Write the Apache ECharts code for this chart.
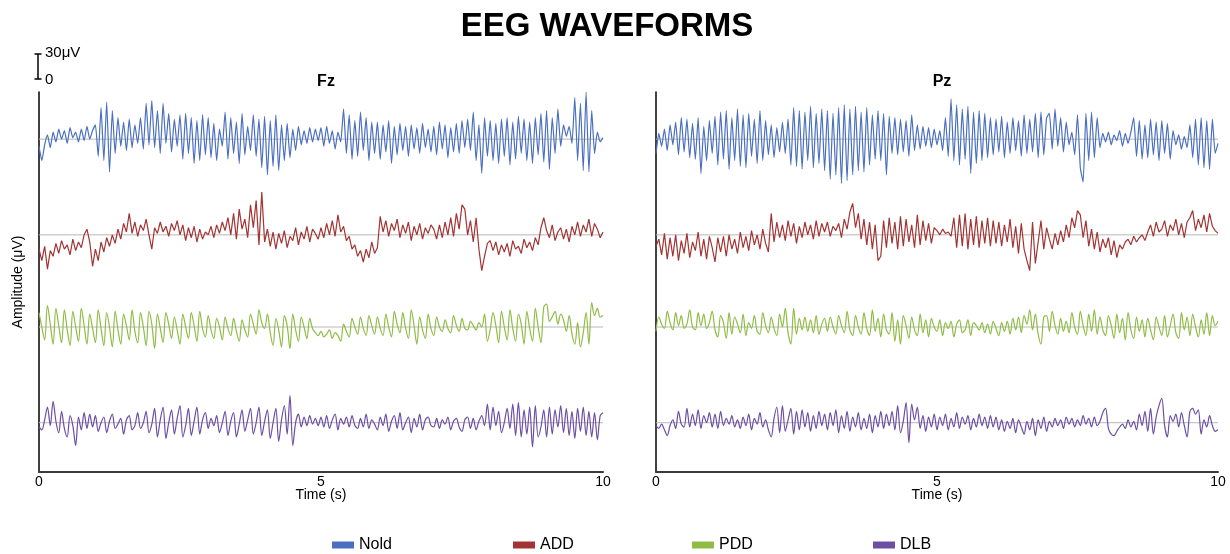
<!DOCTYPE html>
<html>
<head>
<meta charset="utf-8">
<script src="https://cdn.jsdelivr.net/npm/echarts@6/dist/echarts.min.js"></script>
<style>html,body{margin:0;padding:0;background:#fff;}#c{width:1230px;height:554px;}</style>
</head>
<body>
<div id="c"></div>
<script>
// ---- data (amplitude in µV-scale units, sampled every 0.05 s from 0 to 10 s) ----
const SERIES_NAMES = ['Nold', 'ADD', 'PDD', 'DLB'];
const X_TICKS = [0, 5, 10];
const SAMPLE_STEP = 0.05;

const fzNold = [
 -10,-30,-8,6,-12,10,-4,14,0,12,-6,16,2,10,-4,14,-2,18,0,12,
 20,-24,44,-30,52,-46,40,-20,30,-10,24,-16,28,-12,20,-6,30,-14,50,-8,
 54,-12,40,-20,50,-6,36,-18,28,-10,34,-28,36,-20,30,-34,26,-30,34,-22,
 30,-26,22,-30,14,-10,38,-28,30,-20,24,-34,36,-22,18,-16,34,-24,28,-40,
 32,-50,26,-38,34,-44,20,-30,22,-26,14,-16,18,-8,12,-6,16,-4,14,-2,
 16,-10,18,-6,12,-14,10,-4,42,-20,34,-28,26,-24,38,-16,30,-30,24,-20,
 24,-28,20,-18,26,-34,18,-22,22,-16,18,-24,20,-14,16,-20,22,-12,14,-18,
 18,-22,24,-14,20,-26,16,-18,22,-20,26,-12,28,-16,38,-30,20,-48,30,-24,
 26,-30,22,-34,28,-24,30,-36,24,-28,32,-20,28,-30,24,-34,30,-22,36,-32,
 40,-42,30,-20,42,-10,20,4,18,-6,58,-30,50,-44,66,-46,40,-20,10,-4,
 2];
const fzADD = [
 -20,-36,-16,-48,-22,-30,-12,-26,-8,-20,-14,-28,-6,-22,-10,-18,0,8,-10,-44,
 -20,-36,-10,-24,-4,-16,0,-12,8,-6,16,4,30,2,18,-2,14,6,22,0,
 -20,10,2,18,4,12,-2,16,6,20,0,14,-8,10,-4,12,-10,8,-6,4,
 0,12,-4,14,2,18,6,24,0,30,-6,36,8,22,-4,42,10,48,-14,60,
 -10,8,-16,4,-20,2,-12,6,-18,-2,-8,10,-14,4,-6,12,-10,8,2,-6,
 10,-4,16,0,20,-2,28,4,12,-8,-2,-20,-14,-30,-22,-38,-20,-32,-10,-26,
 -18,26,4,20,-2,16,6,22,-4,14,2,18,-8,12,0,16,-6,10,2,14,
 8,-6,14,-4,18,0,24,-2,30,8,42,36,0,20,-10,24,-20,-50,-30,-12,
 -8,-22,-10,-28,-14,-24,-12,-30,-8,-20,-16,-26,-6,-18,-10,-22,-4,-14,10,24,
 6,-4,14,-8,4,10,-6,8,-10,12,0,18,-2,14,4,22,-2,16,8,-4,
 4];
const fzPDD = [
 20,0,-18,30,4,-24,26,2,-22,24,-4,-26,22,0,-20,26,2,-24,18,-2,
 -22,24,-2,-26,20,0,-28,22,-4,-24,18,2,-18,24,-6,-22,20,0,-26,22,
 4,-30,18,-2,-22,20,4,-16,14,-4,-24,18,0,-16,20,2,-20,22,-2,-14,
 16,-4,-16,12,0,-18,14,-2,-12,12,-6,-20,10,-4,-14,18,4,-10,24,6,
 -2,18,-8,-26,12,-4,-28,16,2,-30,18,-4,-20,14,0,-16,12,-2,-8,-12,
 -6,-14,-10,-4,-16,-8,-12,-20,4,-6,-14,12,0,-10,14,-2,-12,16,2,-10,
 14,-2,-12,18,0,-14,22,4,-8,20,-2,-16,24,2,-24,14,-4,-16,18,-2,
 -12,14,0,-6,10,-2,-8,16,2,-6,12,-2,-4,8,2,-4,6,0,18,-20,
 -4,20,2,-22,22,0,-18,24,-2,-20,18,4,-24,22,-2,-20,26,0,-22,28,
 32,8,14,22,4,18,10,-6,16,-10,-24,6,-28,-8,20,-24,34,16,26,14,
 16];
const fzDLB = [
 -6,-10,4,22,-4,30,2,-14,16,-8,-20,10,-4,-32,8,-10,14,-8,12,-6,
 10,-12,0,8,-14,2,12,-8,-2,6,-16,4,10,-10,-4,14,-8,0,16,-14,
 -2,20,-20,4,22,-22,0,18,-16,6,24,-20,-4,20,-18,2,22,-16,4,14,
 -8,6,-4,10,-14,0,16,-18,2,14,-20,-2,18,-12,4,20,-16,0,22,-18,
 2,18,-22,0,20,-26,4,24,-16,38,-32,0,12,-6,8,-4,10,-2,6,-4,
 8,-6,10,-8,4,12,-10,6,-2,8,-6,10,-4,-8,6,-6,12,-8,4,-2,
 -10,8,-4,12,-12,2,10,-8,14,-10,0,8,-14,6,-6,12,-10,4,8,-4,
 -6,6,-8,4,-2,8,-10,2,6,-6,-12,4,8,-8,6,-10,2,10,-4,26,
 -10,22,-4,16,-14,0,20,-8,26,-18,28,-20,18,-16,22,-34,24,-20,-6,18,
 -20,22,-16,18,-6,24,-14,20,-18,16,-22,20,-12,22,-18,16,-20,14,-24,10,
 14];

const pzNold = [
 -20,8,-10,14,-16,20,-8,24,-22,30,-18,28,-26,22,-28,30,-48,18,-30,26,
 -20,32,-36,38,-28,40,-42,30,-30,42,-38,34,-40,36,-24,28,-34,40,-30,26,
 -22,20,-26,16,-18,24,-20,28,-36,44,-38,40,-42,38,-30,46,-40,36,-34,42,
 -44,40,-56,36,-50,44,-62,48,-58,42,-50,46,-44,38,-46,44,-36,34,-28,40,
 -30,36,-50,32,-20,30,-22,28,-18,26,-24,34,-16,20,-14,18,-10,16,-12,14,
 -8,12,-16,30,-24,56,-30,48,-36,42,-28,46,-48,38,-34,40,-30,36,-26,30,
 -22,28,-18,32,-26,24,-20,30,-16,26,-24,34,-20,28,-18,36,-26,38,-22,30,
 36,-14,42,-10,30,-18,24,-8,10,-22,34,-40,-60,36,-30,38,-26,30,-12,8,
 -4,10,-8,6,-2,12,-10,8,-6,10,30,-24,26,-28,20,-26,28,-22,24,-30,
 26,-20,22,-28,12,-8,6,-14,4,-12,20,-26,28,-36,30,-40,26,-42,28,-20,
 -6];
const pzADD = [
 -16,-6,-28,2,-34,-4,-30,0,-36,-8,-26,2,-32,-10,-22,4,-30,-6,-34,-2,
 -18,-38,-4,-24,-2,-30,0,-20,-6,-26,4,-18,-2,-22,6,-14,0,-20,8,-12,
 -24,30,-10,18,-4,14,-8,20,-2,16,-12,12,-4,18,0,14,-6,20,-2,16,
 4,18,-2,12,6,16,-4,22,8,32,44,10,30,-6,22,-14,18,-20,14,-36,
 -30,20,-18,24,-12,18,-20,26,-16,22,-10,14,-18,28,-14,20,-8,16,-12,10,
 6,0,8,2,4,-2,24,-18,28,-16,30,-20,22,-14,26,-18,20,-12,24,-16,
 20,-12,18,-16,14,-10,22,-18,12,-26,16,-20,-36,-50,18,-40,-10,20,-20,10,
 -6,-20,2,-14,6,-10,14,-4,24,10,34,28,-4,20,-16,8,-20,4,-24,-6,
 -18,-4,-28,-8,-32,-14,-20,-10,-6,-14,-2,-10,-4,0,-8,4,14,-2,18,4,
 8,20,-2,14,6,22,0,16,-4,18,24,34,6,22,10,28,4,30,12,6,
 2];
const pzPDD = [
 -6,14,4,-2,22,6,-4,20,2,16,-2,4,24,0,-4,20,2,18,-2,6,
 22,-4,-14,16,6,-16,20,-10,14,4,-8,18,-12,6,-2,16,-6,-10,20,2,
 -8,14,-2,-12,18,0,26,-8,-24,26,-10,12,-4,14,-6,10,-8,16,-10,4,
 12,-6,14,0,-10,16,2,-8,22,-4,-12,16,0,-10,20,-2,-12,24,-6,12,
 -14,18,-4,-10,20,-20,10,-24,16,2,-16,14,-4,-12,18,-8,10,-14,12,0,
 -6,10,-12,6,-2,8,-14,4,10,-8,-4,10,-12,6,2,-4,6,-8,4,-10,
 8,-2,-12,6,-6,8,-10,12,-4,14,-8,16,4,24,-4,18,-10,-24,14,16,
 -6,22,2,-10,12,-6,8,-8,20,0,-10,22,2,-12,18,-6,24,-10,14,-4,
 -12,16,2,-16,18,-8,12,-18,20,-4,-16,14,-6,10,-14,12,-4,-18,14,0,
 -12,16,-14,2,18,-8,-16,20,-4,14,-12,18,0,-14,10,-10,20,-12,16,2,
 8];
const pzDLB = [
 -4,-8,-2,-10,-18,-4,4,-8,16,-2,-6,20,-6,12,-4,18,-8,10,0,14,
 -6,12,-8,16,-4,6,-2,10,-6,4,-8,8,-4,12,-10,6,-2,14,-6,4,
 -10,-20,6,22,-14,24,-12,4,20,-16,16,-10,18,-6,14,-12,10,-8,16,-4,
 12,-10,14,-4,18,-14,10,-8,16,-12,8,-6,14,-10,6,-8,12,-14,10,-6,
 16,-8,12,-4,16,-10,24,-14,2,28,-28,26,4,22,-8,10,-12,8,-6,12,
 -10,8,-4,12,-10,6,-6,14,-8,8,-2,10,-10,6,-6,12,-4,8,-8,10,
 -6,8,-10,4,-12,2,-8,6,-14,4,-6,-16,2,-10,6,-18,4,-8,8,-12,
 2,-6,6,-4,4,-8,8,-2,6,-6,4,-4,10,-2,6,-6,8,-4,2,14,
 20,-8,-16,-18,-12,-6,-2,-8,4,-6,2,-10,12,-4,16,-12,20,-16,8,24,
 34,-4,-20,10,2,12,-6,14,-4,-20,16,20,12,18,-16,4,-6,10,-4,-12,
 -10];

// ---- layout / style ----
const COLORS = {Nold:'#4a6fbf', ADD:'#a23434', PDD:'#8fbc45', DLB:'#6c4ea3'};
const SMOOTH = {Nold:0.15, ADD:0, PDD:0.35, DLB:0.3};
const BASELINES = {Nold:-66, ADD:-200, PDD:-329, DLB:-463};
const Y_MIN = -532, Y_MAX = 0;
const FONT = '"Liberation Sans", Arial, sans-serif';

const TIME = fzNold.map((_, i) => +(i * SAMPLE_STEP).toFixed(2));

const panels = [
  {data:{Nold:fzNold, ADD:fzADD, PDD:fzPDD, DLB:fzDLB}},
  {data:{Nold:pzNold, ADD:pzADD, PDD:pzPDD, DLB:pzDLB}}
];

const series = [];
panels.forEach((p, pi) => {
  SERIES_NAMES.forEach(name => {
    const off = BASELINES[name];
    series.push({
      type:'line', xAxisIndex:pi, yAxisIndex:pi, silent:true, z:1,
      showSymbol:false, symbol:'none', animation:false,
      data:[[0, off], [10, off]],
      lineStyle:{color:'#b8b8b8', width:1}
    });
  });
  SERIES_NAMES.forEach(name => {
    const off = BASELINES[name];
    series.push({
      name:name, type:'line', xAxisIndex:pi, yAxisIndex:pi, z:3,
      showSymbol:false, symbol:'none', animation:false,
      smooth:SMOOTH[name],
      color:COLORS[name],
      data:p.data[name].map((v, i) => [TIME[i], v + off]),
      lineStyle:{color:COLORS[name], width:1.2}
    });
  });
});

function xAx(gi){
  return {
    type:'value', gridIndex:gi, min:0, max:10, interval:5,
    axisLine:{show:true, onZero:false, lineStyle:{color:'#3a3a3a', width:2}},
    axisTick:{show:false}, splitLine:{show:false},
    axisLabel:{fontSize:14, color:'#000', margin:3, fontFamily:FONT,
      formatter: v => X_TICKS.includes(v) ? String(v) : ''},
    name:'Time (s)', nameLocation:'middle', nameGap:16, nameMoveOverlap:false,
    nameTextStyle:{fontSize:14, color:'#000', fontFamily:FONT}
  };
}
function yAx(gi, named){
  return {
    type:'value', gridIndex:gi, min:Y_MIN, max:Y_MAX,
    axisLine:{show:true, onZero:false, lineStyle:{color:'#000', width:1.5}},
    axisTick:{show:false}, axisLabel:{show:false}, splitLine:{show:false},
    name: named ? 'Amplitude (\u03bcV)' : '', nameLocation:'middle', nameGap:14,
    nameTextStyle:{fontSize:14, color:'#000', fontFamily:FONT}
  };
}

const legendPos = [327, 508, 687, 868];
const option = {
  backgroundColor:'#fff',
  animation:false,
  textStyle:{fontFamily:FONT},
  title:[
    {text:'EEG WAVEFORMS', left:602, top:5, textAlign:'center',
     textStyle:{fontSize:33, fontWeight:'bold', color:'#000', fontFamily:FONT}},
    {text:'Fz', left:321, top:69, textAlign:'center',
     textStyle:{fontSize:16, fontWeight:'bold', color:'#000', fontFamily:FONT}},
    {text:'Pz', left:937, top:69, textAlign:'center',
     textStyle:{fontSize:16, fontWeight:'bold', color:'#000', fontFamily:FONT}}
  ],
  legend: SERIES_NAMES.map((n, i) => ({
    data:[n], left:legendPos[i], top:532, icon:'rect',
    itemWidth:22, itemHeight:7, itemGap:10,
    textStyle:{fontSize:16, color:'#000', fontFamily:FONT},
    selectedMode:false
  })),
  grid:[
    {left:39, top:92, width:564, height:380},
    {left:656, top:92, width:562, height:380}
  ],
  xAxis:[xAx(0), xAx(1)],
  yAxis:[yAx(0, true), yAx(1, false)],
  graphic:[
    {type:'line', shape:{x1:38, y1:54, x2:38, y2:79}, style:{stroke:'#000', lineWidth:1.5}},
    {type:'line', shape:{x1:34.5, y1:54, x2:41.5, y2:54}, style:{stroke:'#000', lineWidth:1.5}},
    {type:'line', shape:{x1:34.5, y1:79, x2:41.5, y2:79}, style:{stroke:'#000', lineWidth:1.5}},
    {type:'text', x:45, y:53, style:{text:'30\u03bcV', fill:'#000', textVerticalAlign:'middle', font:'15px "Liberation Sans", Arial, sans-serif'}},
    {type:'text', x:45, y:80, style:{text:'0', fill:'#000', textVerticalAlign:'middle', font:'15px "Liberation Sans", Arial, sans-serif'}}
  ],
  series:series
};

const chart = echarts.init(document.getElementById('c'), null, {renderer:'canvas'});
chart.setOption(option);
</script>
</body>
</html>
